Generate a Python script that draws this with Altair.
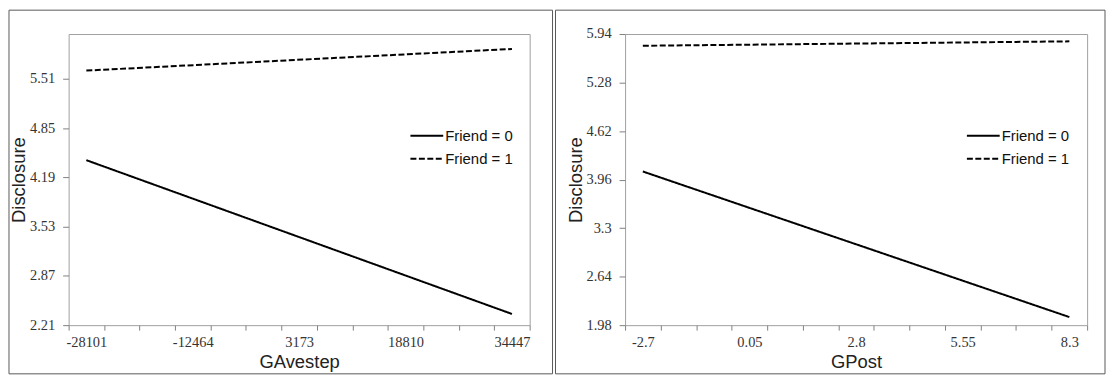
import altair as alt
import pandas as pd

# ---- data ----
series = ["Friend = 0", "Friend = 1"]

left_x = [-28101, 34447]
left_f0 = [4.42, 2.36]
left_f1 = [5.62, 5.91]
left_xticks = [-28101, -12464, 3173, 18810, 34447]
left_yticks = [2.21, 2.87, 3.53, 4.19, 4.85, 5.51]
left_ymax = 6.11

right_x = [-2.7, 8.3]
right_f0 = [4.07, 2.09]
right_f1 = [5.78, 5.84]
right_xticks = [-2.7, 0.05, 2.8, 5.55, 8.3]
right_yticks = [1.98, 2.64, 3.3, 3.96, 4.62, 5.28, 5.94]
right_ymax = 5.94

SERIF = "Liberation Serif"
SANS = "Liberation Sans"
PLOT_H = 293


def panel(xs, f0, f1, xticks, yticks, ymax, xtitle, width, bx0, bx1):
    df = pd.DataFrame({
        "x": xs + xs,
        "y": f0 + f1,
        "Friend": [series[0]] * len(xs) + [series[1]] * len(xs),
    })
    ncat = 3 * (len(xticks) - 1) + 1
    step = (xticks[-1] - xticks[0]) / (ncat - 1)
    bounds = [xticks[0] - step / 2 + k * step for k in range(ncat + 1)]
    xscale = alt.Scale(domain=[bounds[0], bounds[-1]], nice=False, zero=False)
    yscale = alt.Scale(domain=[yticks[0], ymax], nice=False, zero=False)

    border = alt.Chart(alt.Data(values=[{}])).mark_rect(
        fill="transparent", stroke="#5a5a5a", strokeWidth=1
    ).encode(
        x=alt.value(bx0), x2=alt.value(bx1), y=alt.value(-24), y2=alt.value(342)
    )

    lines = alt.Chart(df).mark_line(color="black", strokeWidth=2).encode(
        x=alt.X(
            "x:Q", scale=xscale,
            axis=alt.Axis(
                values=xticks, ticks=False, domain=False, grid=False,
                labelExpr="'' + datum.value", labelFont=SERIF, labelFontSize=14.5,
                labelColor="#333333", labelPadding=10,
                title=xtitle, titleFont=SANS, titleFontSize=18.5,
                titleFontWeight="normal", titleColor="#222222",
                titleY=37, titleBaseline="middle", orient="bottom",
            ),
        ),
        y=alt.Y(
            "y:Q", scale=yscale,
            axis=alt.Axis(
                values=yticks, ticks=True, tickSize=6, tickColor="#808080",
                domain=False, grid=False,
                labelExpr="'' + datum.value", labelFont=SERIF, labelFontSize=14.5,
                labelColor="#333333", labelPadding=8,
                title="Disclosure", titleFont=SANS, titleFontSize=18.5,
                titleFontWeight="normal", titleColor="#222222",
                titleX=-50, titleBaseline="middle", titleAngle=270,
            ),
        ),
        strokeDash=alt.StrokeDash(
            "Friend:N",
            scale=alt.Scale(domain=series, range=[[1, 0], [6, 2.5]]),
            legend=alt.Legend(
                title=None, orient="none", legendX=343, legendY=92,
                symbolType="stroke", symbolSize=1089, symbolStrokeWidth=2,
                symbolStrokeColor="black", labelFont=SANS, labelFontSize=15,
                labelColor="#111111", labelOffset=1, padding=0,
                clipHeight=21,
            ),
        ),
    )

    tickaxis = alt.Chart(df).mark_point(opacity=0).encode(
        x=alt.X(
            "x:Q", scale=xscale,
            axis=alt.Axis(
                values=bounds, labels=False, domain=False, grid=False,
                ticks=True, tickSize=5, tickColor="#808080", title=None,
                orient="bottom",
            ),
        ),
    )

    return alt.layer(border, lines, tickaxis).resolve_axis(x="independent").properties(
        width=width, height=PLOT_H
    )


left = panel(left_x, left_f0, left_f1, left_xticks, left_yticks, left_ymax,
             "GAvestep", 464, -60, 487)
right = panel(right_x, right_f0, right_f1, right_xticks, right_yticks, right_ymax,
              "GPost", 465, -70, 483)

chart = alt.hconcat(left, right, spacing=96, bounds="flush").resolve_legend(
    strokeDash="independent"
).properties(padding=0).configure_view(stroke="#a0a0a0", strokeWidth=1)

chart.save("out.html", embed_options={"renderer": "svg", "actions": False})
